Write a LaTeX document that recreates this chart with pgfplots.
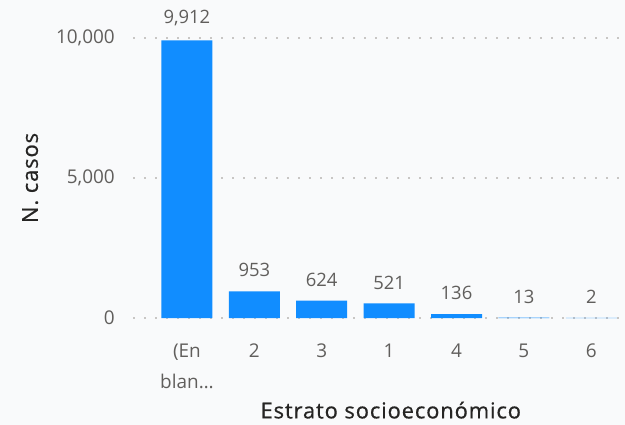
\documentclass[border=0pt]{standalone}
\usepackage{pgfplots}
\pgfplotsset{compat=1.18}
\usepackage{fontspec}
\setmainfont{Open Sans}
\newfontfamily\titlefont[LetterSpace=4, FakeBold=0.6]{Open Sans}
\definecolor{barblue}{HTML}{118DFF}
\definecolor{ticktxt}{HTML}{605E5C}
\definecolor{titletxt}{HTML}{252423}
\definecolor{gridc}{HTML}{C8C6C4}
\definecolor{bg}{HTML}{F9FAFB}
\begin{document}
\begin{tikzpicture}
\fill[bg] (0,0) rectangle (625bp,425bp);
\useasboundingbox (0,0) rectangle (625bp,425bp);
\begin{axis}[
    at={(133bp,107bp)}, anchor=south west,
    scale only axis, width=492bp, height=298bp,
    ybar, bar width=51bp,
    xmin=-0.8, xmax=6.5,
    ymin=0, ymax=10643,
    axis line style={draw=none},
    clip=false,
    xtick=data,
    xticklabels={{(En\\blan\ldots},2,3,1,4,5,6},
    ytick={0,5000,10000},
    scaled y ticks=false,
    ymajorgrids=true,
    grid style={dash pattern=on 1.5bp off 9.5bp, line width=1.4bp, color=gridc},
    major tick length=0pt,
    tick style={draw=none},
    /pgf/number format/.cd, 1000 sep={,}, assume math mode=true,
    /pgfplots/.cd,
    tick label style={font=\fontsize{19}{31}\selectfont, color=ticktxt},
    xticklabel style={align=center, inner sep=0pt, yshift=-26bp},
    yticklabel style={inner sep=0pt, xshift=-18bp},
    xlabel={Estrato socioeconómico},
    ylabel={N. casos},
    label style={font=\titlefont\fontsize{22}{25}\selectfont, color=titletxt},
    xlabel style={at={(axis description cs:0.524,-0.309)}, anchor=center},
    ylabel style={at={(axis description cs:-0.209,0.47)}, anchor=center},
    nodes near coords,
    every node near coord/.append style={font=\fontsize{18.5}{20}\selectfont, color=ticktxt, inner sep=0pt, yshift=14bp},
]
\addplot[fill=barblue, draw=none] coordinates {
    (0,9912) (1,953) (2,624) (3,521) (4,136) (5,13) (6,2)
};
\end{axis}
\end{tikzpicture}
\end{document}
